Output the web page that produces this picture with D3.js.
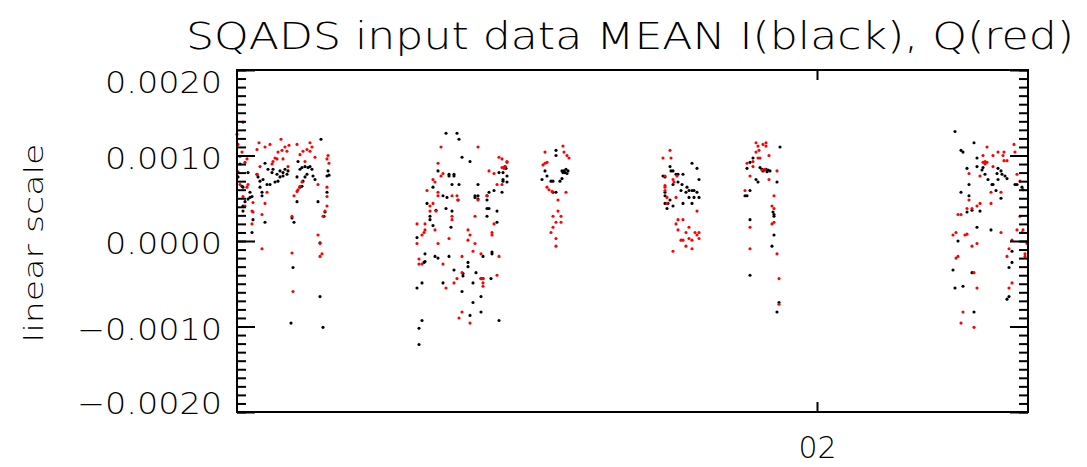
<!DOCTYPE html>
<html><head><meta charset="utf-8">
<script src="https://cdn.jsdelivr.net/npm/d3@7"></script>
<style>
html,body{margin:0;padding:0;background:#fff;}
svg{display:block;}
text{font-family:"DejaVu Sans","Liberation Sans",Arial,sans-serif;font-weight:200;fill:#000;}
</style></head>
<body>
<script>
// ---------- data ----------
const titleText = "SQADS input data MEAN I(black), Q(red)";
const yLabelText = "linear scale";
const yMajorTicks = [-0.002, -0.001, 0, 0.001, 0.002];
const yTickLabels = ["\u22120.0020", "\u22120.0010", "0.0000", "0.0010", "0.0020"];
const xTickFormat = "%d";           // day of month -> "02"
const startTime = new Date(2000, 0, 1, 14, 20);   // axis start
const spanMinutes = 791;                           // axis length in minutes

// I (black): [minutes after start, value]
const iData = [
 [84,0.00119],[28,0.00091],[31,0.00084],[35,0.00080],[36,0.00084],[40,0.00078],[43,0.00082],[46,0.00080],
 [48,0.00084],[50,0.00078],[51,0.00082],[46,0.00076],[43,0.00075],[20,0.00078],[21,0.00075],[23,0.00070],
 [26,0.00072],[30,0.00066],[33,0.00066],[38,0.00069],[41,0.00070],[23,0.00063],[25,0.00057],[25,0.00053],
 [61,0.00093],[63,0.00084],[65,0.00086],[68,0.00087],[71,0.00086],[75,0.00084],[73,0.00087],[70,0.00078],
 [68,0.00075],[66,0.00070],[65,0.00064],[63,0.00063],[60,0.00075],[76,0.00076],[78,0.00072],[91,0.00082],
 [90,0.00076],[92,0.00077],[90,0.00057],[81,0.00046],[60,0.00046],[88,0.00034],[87,0.00029],[28,0.00022],
 [55,0.00027],[57,0.00022],[16,0.00025],[15,0.00010],[13,0.00057],[13,0.00051],[15,0.00052],[11,0.00049],
 [8,0.00046],[6,0.00041],[6,0.00035],[5,0.00064],[6,0.00063],[83,-0.00002],[56,-0.00031],[83,-0.00065],
 [54,-0.00096],[86,-0.00101],[11,0.00080],[3,0.00090],[1,0.00075],
 [209,0.00126],[220,0.00126],[222,0.00119],[225,0.00098],[233,0.00093],[201,0.00082],[212,0.00078],[217,0.00078],
 [212,0.00076],[217,0.00076],[215,0.00066],[222,0.00066],[241,0.00066],[196,0.00063],[206,0.00053],[210,0.00051],
 [221,0.00048],[241,0.00053],[241,0.00049],[190,0.00044],[199,0.00036],[209,0.00038],[215,0.00035],[193,0.00029],
 [193,0.00025],[196,0.00018],[214,0.00016],[180,0.00004],[188,-0.00015],[198,-0.00018],[201,-0.00020],[212,-0.00018],
 [188,-0.00024],[187,-0.00025],[231,-0.00025],[231,-0.00030],[217,-0.00034],[226,-0.00038],[239,-0.00037],[246,-0.00018],
 [255,-0.00013],[255,-0.00015],[185,-0.00049],[206,-0.00049],[180,-0.00055],[226,-0.00041],[236,-0.00049],[246,-0.00044],
 [244,-0.00044],[254,-0.00044],[225,-0.00059],[244,-0.00065],[236,-0.00072],[244,-0.00083],[233,-0.00087],[185,-0.00093],
 [182,-0.00102],[182,-0.00121],[262,-0.00093],[238,0.00053],[238,0.00051],[250,0.00053],[252,0.00057],[257,0.00059],
 [265,0.00057],[250,0.00048],[260,0.00035],[252,0.00038],[250,0.00038],[250,0.00029],[260,0.00022],[262,0.00080],
 [266,0.00080],[266,0.00072],[266,0.00070],[270,0.00069],[268,0.00087],[269,0.00085],[270,0.00076],
 [319,0.00106],[319,0.00100],[308,0.00082],[310,0.00076],[305,0.00072],[314,0.00070],[316,0.00070],[323,0.00070],
 [325,0.00073],[325,0.00082],[327,0.00082],[329,0.00084],[331,0.00082],[330,0.00079],[328,0.00080],[326,0.00080],
 [316,0.00057],[319,0.00057],
 [433,0.00087],[455,0.00091],[460,0.00085],[434,0.00082],[436,0.00082],[439,0.00078],[441,0.00078],[446,0.00078],
 [426,0.00076],[428,0.00075],[441,0.00069],[445,0.00066],[462,0.00072],[436,0.00066],[444,0.00059],[450,0.00063],
 [452,0.00059],[455,0.00059],[457,0.00059],[460,0.00057],[449,0.00057],[428,0.00057],[428,0.00053],[433,0.00048],
 [452,0.00051],[457,0.00051],[462,0.00051],[428,0.00044],[431,0.00044],[446,0.00044],[455,0.00044],[436,0.00041],
 [430,0.00038],
 [543,0.00110],[513,0.00092],[510,0.00085],[516,0.00097],[523,0.00086],[525,0.00084],[527,0.00083],[529,0.00084],
 [531,0.00083],[533,0.00082],[526,0.00082],[530,0.00081],[519,0.00072],[521,0.00069],[540,0.00069],[508,0.00053],
 [510,0.00053],[513,0.00059],[536,0.00034],[537,0.00031],[537,0.00029],[513,0.00025],[537,0.00007],[535,-0.00006],
 [513,-0.00040],[542,-0.00072],[540,-0.00083],
 [718,0.00128],[737,0.00115],[724,0.00106],[726,0.00104],[740,0.00097],[730,0.00085],[746,0.00086],[745,0.00083],
 [740,0.00087],[748,0.00078],[761,0.00085],[764,0.00082],[765,0.00078],[760,0.00079],[768,0.00076],[770,0.00073],
 [751,0.00072],[755,0.00066],[756,0.00066],[761,0.00072],[732,0.00066],[778,0.00066],[780,0.00066],[785,0.00063],
 [786,0.00060],[759,0.00059],[724,0.00057],[732,0.00053],[764,0.00050],[735,0.00036],[730,0.00034],[743,0.00035],
 [740,0.00016],[754,0.00013],[721,0.00000],[775,-0.00012],[775,-0.00025],[772,-0.00031],[716,-0.00034],[735,-0.00037],
 [726,-0.00053],[718,-0.00055],[772,-0.00065],[770,-0.00068],[737,-0.00083]
];

// Q (red): [minutes after start, value]
const qData = [
 [6,0.00139],[0,0.00125],[1,0.00113],[22,0.00115],[28,0.00110],[33,0.00113],[44,0.00119],[52,0.00112],
 [48,0.00110],[45,0.00106],[41,0.00104],[50,0.00105],[60,0.00113],[73,0.00115],[75,0.00110],[73,0.00105],
 [70,0.00107],[66,0.00105],[63,0.00101],[68,0.00093],[78,0.00098],[91,0.00100],[90,0.00096],[92,0.00091],
 [20,0.00107],[38,0.00097],[36,0.00093],[35,0.00090],[40,0.00096],[46,0.00096],[51,0.00087],[23,0.00087],
 [20,0.00078],[10,0.00096],[8,0.00092],[3,0.00099],[5,0.00104],[65,0.00069],[63,0.00064],[61,0.00060],
 [60,0.00058],[57,0.00053],[81,0.00066],[90,0.00063],[11,0.00066],[10,0.00063],[30,0.00057],[90,0.00052],
 [6,0.00052],[8,0.00041],[16,0.00045],[15,0.00035],[16,0.00034],[28,0.00044],[90,0.00041],[88,0.00035],
 [86,0.00029],[25,0.00031],[15,0.00020],[55,0.00029],[81,0.00007],[83,-0.00003],[85,-0.00015],[83,-0.00018],
 [25,-0.00009],[55,-0.00014],[56,-0.00059],[1,0.00081],[3,0.00066],
 [204,0.00110],[241,0.00110],[201,0.00091],[196,0.00072],[198,0.00069],[206,0.00079],[204,0.00076],[190,0.00059],
 [201,0.00057],[201,0.00053],[215,0.00053],[220,0.00053],[221,0.00048],[196,0.00044],[193,0.00041],[193,0.00035],
 [250,0.00053],[241,0.00048],[199,0.00035],[215,0.00029],[215,0.00025],[238,0.00029],[180,0.00020],[188,0.00020],
 [188,0.00013],[187,0.00010],[198,0.00013],[185,0.00007],[180,-0.00003],[201,-0.00003],[212,0.00003],[231,0.00013],
 [233,0.00007],[231,0.00001],[238,-0.00003],[255,0.00010],[255,0.00007],[257,0.00020],[236,-0.00012],[244,-0.00015],
 [225,-0.00018],[262,-0.00018],[182,-0.00021],[182,-0.00027],[185,-0.00027],[206,-0.00027],[260,-0.00040],[225,-0.00037],
 [220,-0.00044],[244,-0.00044],[246,-0.00044],[246,-0.00049],[246,-0.00053],[217,-0.00049],[209,-0.00055],[225,-0.00083],
 [222,-0.00090],[233,-0.00096],[252,0.00082],[257,0.00079],[262,0.00098],[265,0.00096],[270,0.00093],[270,0.00092],
 [268,0.00087],[265,0.00086],[267,0.00085],[260,0.00066],[265,0.00066],
 [326,0.00111],[308,0.00104],[327,0.00104],[330,0.00100],[332,0.00097],[310,0.00092],[308,0.00091],[306,0.00089],
 [310,0.00063],[312,0.00060],[315,0.00058],[329,0.00057],[321,0.00048],[321,0.00035],[316,0.00029],[324,0.00029],
 [319,0.00022],[324,0.00022],[316,0.00016],[314,0.00010],[319,0.00003],[319,-0.00006],
 [433,0.00106],[426,0.00097],[434,0.00097],[428,0.00076],[436,0.00072],[437,0.00069],[440,0.00076],[428,0.00065],
 [428,0.00063],[428,0.00059],[430,0.00051],[439,0.00051],[430,0.00044],[460,0.00035],[441,0.00025],[446,0.00025],
 [439,0.00020],[441,0.00013],[452,0.00016],[449,0.00010],[458,0.00010],[462,0.00010],[460,0.00007],[462,0.00003],
 [452,0.00003],[455,0.00001],[444,0.00001],[446,0.00001],[449,-0.00006],[455,-0.00009],[436,-0.00012],
 [519,0.00115],[526,0.00113],[529,0.00115],[521,0.00111],[529,0.00111],[519,0.00104],[522,0.00106],[532,0.00100],
 [516,0.00093],[510,0.00091],[516,0.00087],[521,0.00097],[523,0.00097],[540,0.00082],[532,0.00072],[513,0.00076],
 [508,0.00059],[537,0.00053],[535,0.00041],[537,0.00038],[537,0.00022],[535,0.00020],[513,0.00016],[513,-0.00009],
 [540,-0.00015],[542,-0.00044],[542,-0.00074],[525,0.00083],[528,0.00084],
 [777,0.00113],[750,0.00110],[746,0.00100],[756,0.00100],[761,0.00104],[767,0.00104],[766,0.00100],[778,0.00104],
 [767,0.00094],[770,0.00094],[748,0.00093],[746,0.00092],[750,0.00092],[748,0.00090],[756,0.00087],[743,0.00076],
 [732,0.00079],[780,0.00078],[783,0.00070],[764,0.00057],[754,0.00057],[732,0.00048],[743,0.00044],[740,0.00041],
 [754,0.00044],[730,0.00038],[735,0.00038],[721,0.00031],[724,0.00031],[783,0.00029],[780,0.00013],[786,0.00013],
 [785,0.00010],[764,0.00010],[719,0.00010],[716,0.00007],[728,0.00007],[730,0.00008],[775,0.00001],[790,-0.00003],
 [735,-0.00006],[740,-0.00003],[772,-0.00009],[770,-0.00018],[788,-0.00015],[788,-0.00018],[719,-0.00020],[721,-0.00018],
 [737,-0.00037],[775,-0.00049],[772,-0.00055],[740,-0.00055],[726,-0.00083],[724,-0.00096],[737,-0.00101]
];

// ---------- drawing ----------
const W = 1087, H = 467;
const m = {left:237, right:1028, top:70, bottom:412};

const svg = d3.select("body").append("svg").attr("width", W).attr("height", H);

const endTime = d3.timeMinute.offset(startTime, spanMinutes);
const x = d3.scaleTime().domain([startTime, endTime]).range([m.left, m.right]);
const y = d3.scaleLinear().domain([-0.002, 0.002]).range([m.bottom, m.top]);
const tx = d => x(d3.timeMinute.offset(startTime, d[0]));

// points
const plot = svg.append("g");
plot.selectAll("circle.i").data(iData).join("circle")
  .attr("class","i").attr("cx", tx).attr("cy", d => y(d[1])).attr("r", 1.55).attr("fill", "#000");
plot.selectAll("circle.q").data(qData).join("circle")
  .attr("class","q").attr("cx", tx).attr("cy", d => y(d[1])).attr("r", 1.55).attr("fill", "#ff0000");

// minor ticks
const minorTicks = d3.range(-20, 21).map(k => k * 0.0001);
function styleAxis(g){
  g.select(".domain").remove();
  g.selectAll(".tick line").attr("stroke", "#000").attr("stroke-width", 2);
}
svg.append("g").attr("transform", `translate(${m.left},0)`)
  .call(d3.axisLeft(y).tickValues(minorTicks).tickSize(-9).tickFormat(""))
  .call(styleAxis);
svg.append("g").attr("transform", `translate(${m.right},0)`)
  .call(d3.axisRight(y).tickValues(minorTicks).tickSize(-9).tickFormat(""))
  .call(styleAxis);
svg.append("g").attr("transform", `translate(${m.right},0)`)
  .call(d3.axisRight(y).tickValues(yMajorTicks).tickSize(-18).tickFormat(""))
  .call(styleAxis);

// left major with labels
const yAxisG = svg.append("g").attr("transform", `translate(${m.left},0)`)
  .call(d3.axisLeft(y).tickValues(yMajorTicks).tickSize(-18).tickPadding(15)
        .tickFormat((d,i) => yTickLabels[i]))
  .call(styleAxis);
yAxisG.selectAll(".tick text")
  .attr("font-size", 30).attr("font-family", null)
  .attr("dy", d => d === 0.002 ? "0.75em" : d === -0.002 ? "0.05em" : "0.42em")
  .attr("textLength", (d) => d < 0 ? 145 : 117)
  .attr("lengthAdjust", "spacingAndGlyphs");

// x axes
const xBottom = svg.append("g").attr("transform", `translate(0,${m.bottom})`)
  .call(d3.axisBottom(x).ticks(d3.timeDay.every(1)).tickSize(-10).tickPadding(24)
        .tickFormat(d3.timeFormat(xTickFormat)))
  .call(styleAxis);
xBottom.selectAll(".tick text").attr("font-size", 31).attr("font-family", null)
  .attr("textLength", 38).attr("lengthAdjust", "spacingAndGlyphs");
svg.append("g").attr("transform", `translate(0,${m.top})`)
  .call(d3.axisTop(x).ticks(d3.timeDay.every(1)).tickSize(-10).tickFormat(""))
  .call(styleAxis);

// frame
svg.append("rect").attr("x", m.left).attr("y", m.top)
  .attr("width", m.right - m.left).attr("height", m.bottom - m.top)
  .attr("fill", "none").attr("stroke", "#000").attr("stroke-width", 2);

// title
svg.append("text").attr("x", 630).attr("y", 49).attr("text-anchor", "middle")
  .attr("font-size", 37).attr("textLength", 888).attr("lengthAdjust", "spacingAndGlyphs")
  .text(titleText);

// y label
svg.append("text").attr("transform", "translate(43,243) rotate(-90)")
  .attr("text-anchor", "middle").attr("font-size", 27)
  .attr("textLength", 199).attr("lengthAdjust", "spacingAndGlyphs")
  .text(yLabelText);
</script>
</body></html>
